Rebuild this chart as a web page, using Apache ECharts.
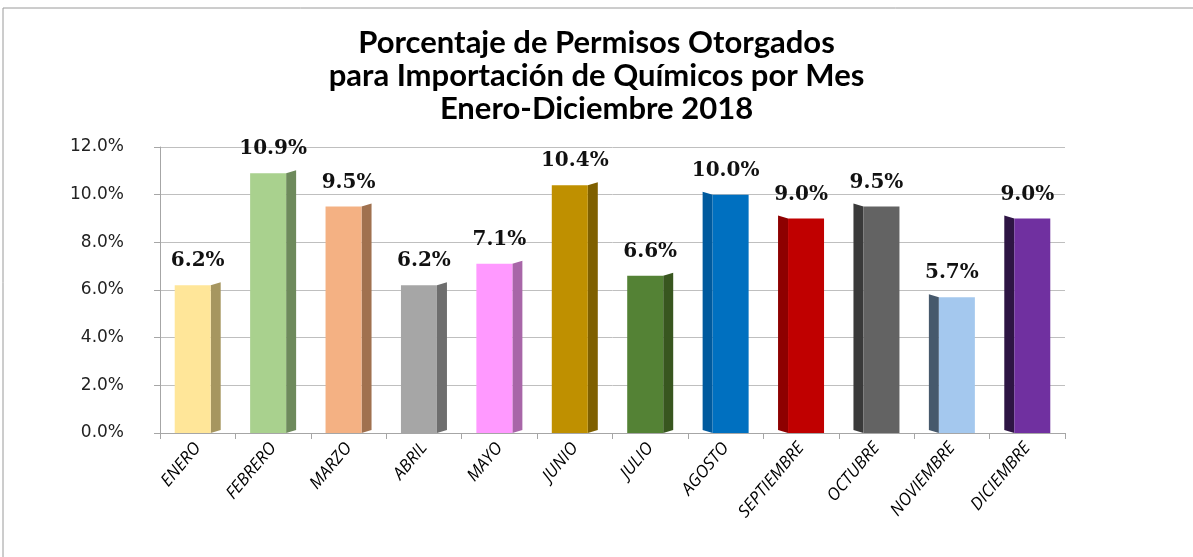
<!DOCTYPE html>
<html>
<head>
<meta charset="utf-8">
<script src="https://cdn.jsdelivr.net/npm/echarts@6/dist/echarts.min.js"></script>
<style>
  html, body { margin: 0; padding: 0; background: #fff; }
  #chart { width: 1193px; height: 557px; }
</style>
</head>
<body>
<div id="chart"></div>
<script>
// datos del grafico
var meses = ['ENERO', 'FEBRERO', 'MARZO', 'ABRIL', 'MAYO', 'JUNIO', 'JULIO',
             'AGOSTO', 'SEPTIEMBRE', 'OCTUBRE', 'NOVIEMBRE', 'DICIEMBRE'];
var porcentajes = [6.2, 10.9, 9.5, 6.2, 7.1, 10.4, 6.6, 10.0, 9.0, 9.5, 5.7, 9.0];
var yTicks = [0, 2, 4, 6, 8, 10, 12];

var colores = ['#FFE699', '#A9D18E', '#F4B183', '#A6A6A6', '#FF99FF', '#BF9000',
               '#548235', '#0070C0', '#C00000', '#636363', '#A4C8EE', '#7030A0'];
var lados = ['#A69660', '#6E8A5C', '#A0714F', '#6E6E6E', '#A866A8', '#7F6000',
             '#38561F', '#005A9E', '#8E0000', '#3A3A3A', '#46596C', '#2E1544'];

var dom = document.getElementById('chart');
var myChart = echarts.init(dom);

function renderBar(params, api) {
  var i = api.value(0);
  var top = api.coord([i, api.value(1)]);
  var base = api.coord([i, 0]);
  var w = 36, d = 10, sk = 3;
  var right = i < 7;           // cara lateral a la derecha en los primeros meses
  var fx = right ? top[0] - (w + d) / 2 : top[0] - (w + d) / 2 + d;
  var h = base[1] - top[1];
  var side;
  if (right) {
    side = [[fx + w, top[1]], [fx + w + d, top[1] - sk], [fx + w + d, base[1] - sk], [fx + w, base[1]]];
  } else {
    side = [[fx, top[1]], [fx - d, top[1] - sk], [fx - d, base[1] - sk], [fx, base[1]]];
  }
  return {
    type: 'group',
    children: [
      { type: 'polygon', shape: { points: side }, style: { fill: lados[i] } },
      { type: 'rect', shape: { x: fx, y: top[1], width: w, height: h }, style: { fill: colores[i] } },
      {
        type: 'text',
        style: {
          text: api.value(1).toFixed(1) + '%',
          x: top[0], y: top[1] - 14,
          align: 'center', verticalAlign: 'bottom',
          font: 'bold 20px "DejaVu Serif"', fill: '#111'
        }
      }
    ]
  };
}

var option = {
  backgroundColor: '#fff',
  title: {
    text: 'Porcentaje de Permisos Otorgados\npara Importación de Químicos por Mes\nEnero-Diciembre 2018',
    left: 'center',
    top: 21,
    textStyle: {
      fontFamily: 'Lato',
      fontWeight: 'bold',
      fontSize: 31,
      lineHeight: 33,
      color: '#000'
    }
  },
  graphic: [
    { type: 'line', shape: { x1: 3, y1: 8, x2: 1193, y2: 8 }, style: { stroke: '#9a9a9a', lineWidth: 1 } },
    { type: 'line', shape: { x1: 3, y1: 8, x2: 3, y2: 557 }, style: { stroke: '#9a9a9a', lineWidth: 1 } }
  ],
  grid: { left: 160, right: 128, top: 147, bottom: 124 },
  xAxis: {
    type: 'category',
    data: meses,
    axisLine: { show: true, lineStyle: { color: '#A6A6A6' } },
    axisTick: { show: true, alignWithLabel: false, length: 6, lineStyle: { color: '#A6A6A6' } },
    axisLabel: {
      rotate: 50,
      margin: 12,
      fontFamily: 'Open Sans',
      fontStyle: 'italic',
      fontSize: 17,
      color: '#000'
    }
  },
  yAxis: {
    type: 'value',
    min: yTicks[0],
    max: yTicks[yTicks.length - 1],
    interval: 2,
    axisLine: { show: true, lineStyle: { color: '#A6A6A6' } },
    axisTick: { show: true, length: 6, lineStyle: { color: '#A6A6A6' } },
    splitLine: { lineStyle: { color: '#BFBFBF' } },
    axisLabel: {
      margin: 36,
      fontFamily: 'DejaVu Sans',
      fontSize: 17,
      color: '#222',
      formatter: function (v) { return v.toFixed(1) + '%'; }
    }
  },
  series: [{
    type: 'custom',
    renderItem: renderBar,
    data: porcentajes.map(function (v, i) { return [i, v]; }),
    encode: { x: 0, y: 1 }
  }]
};

myChart.setOption(option);
</script>
</body>
</html>
